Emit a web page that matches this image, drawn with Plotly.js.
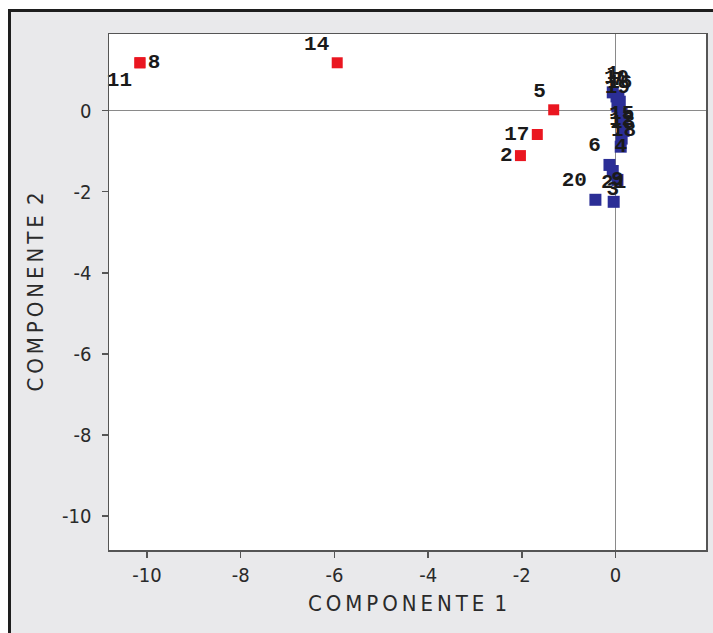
<!DOCTYPE html>
<html>
<head>
<meta charset="utf-8">
<script src="https://cdn.plot.ly/plotly-3.0.1.min.js"></script>
<style>
html,body{margin:0;padding:0;background:#ffffff;width:713px;height:633px;overflow:hidden;}
#frame{position:absolute;left:8px;top:9px;width:705px;height:624px;border-left:3px solid #1e1e1e;border-top:3px solid #1e1e1e;background:#e9e9eb;}
#chart{position:absolute;left:0;top:0;width:702px;height:621px;}
</style>
</head>
<body>
<div id="frame"><div id="chart"></div></div>
<script>
// Group 1 (red)
var redLabels = ['8', '11', '14', '5', '17', '2'];
var redX = [-10.15, -10.15, -5.94, -1.32, -1.67, -2.03];
var redY = [1.18, 1.18, 1.18, 0.02, -0.59, -1.11];

// Group 2 (blue)
var blueLabels = ['1', '10', '16', '19', '7', '15', '13', '18', '12', '4', '6', '3', '9', '20', '21'];
var blueX = [-0.06, 0.02, 0.09, 0.04, 0.06, 0.13, 0.15, 0.17, 0.13, 0.11, -0.13, -0.06, 0.04, -0.43, -0.04];
var blueY = [0.45, 0.35, 0.22, 0.10, 0.30, -0.07, -0.30, -0.50, -0.69, -0.89, -1.34, -1.49, -1.71, -2.20, -2.25];

var xTicks = [-10, -8, -6, -4, -2, 0];
var yTicks = [0, -2, -4, -6, -8, -10];

// label placement (style)
var redPos = ['middle right', 'bottom left', 'top left', 'top left', 'middle left', 'middle left'];
var bluePos = ['top center', 'top center', 'top center', 'top center', 'top center', 'middle center',
               'middle center', 'middle center', 'top center', 'middle center', 'top left', 'bottom center',
               'middle center', 'top left', 'top center'];

var labelFont = {family: 'Liberation Mono, DejaVu Sans Mono, monospace', size: 21, color: '#1a1a1a', weight: 'bold'};

var traces = [
  {
    x: redX, y: redY, text: redLabels, type: 'scatter', mode: 'markers+text',
    textposition: redPos, textfont: labelFont,
    marker: {symbol: 'square', size: 11, color: '#ea1620'},
    hoverinfo: 'text', cliponaxis: false
  },
  {
    x: blueX, y: blueY, text: blueLabels, type: 'scatter', mode: 'markers+text',
    textposition: bluePos, textfont: labelFont,
    marker: {symbol: 'square', size: 12, color: '#2b2e96'},
    hoverinfo: 'text', cliponaxis: false
  }
];

var tickFont = {family: 'DejaVu Sans Condensed, sans-serif', size: 20, color: '#2a2a2a'};
var titleFont = {family: 'DejaVu Sans Condensed, sans-serif', size: 22, color: '#2a2a2a'};

var layout = {
  width: 702, height: 621,
  paper_bgcolor: '#e9e9eb', plot_bgcolor: '#ffffff',
  margin: {l: 98, r: 7, t: 22, b: 83},
  showlegend: false,
  xaxis: {
    range: [-10.81, 1.93], tickvals: xTicks, ticktext: xTicks.map(String),
    showgrid: false, zeroline: true, zerolinecolor: '#8a8a8a', zerolinewidth: 1.5,
    showline: true, linecolor: '#555555', linewidth: 1.5, mirror: true,
    ticks: 'outside', ticklen: 6, tickcolor: '#555555', tickwidth: 1.5,
    tickfont: tickFont,
    title: {text: 'C\u2009O\u2009M\u2009P\u2009O\u2009N\u2009E\u2009N\u2009T\u2009E\u2009 1', font: titleFont, standoff: 10}
  },
  yaxis: {
    range: [-10.84, 1.89], tickvals: yTicks, ticktext: yTicks.map(String),
    showgrid: false, zeroline: true, zerolinecolor: '#8a8a8a', zerolinewidth: 1.5,
    showline: true, linecolor: '#555555', linewidth: 1.5, mirror: true,
    ticks: 'outside', ticklen: 6, tickcolor: '#555555', tickwidth: 1.5,
    tickfont: tickFont, ticklabelstandoff: 6,
    title: {text: 'C\u2009O\u2009M\u2009P\u2009O\u2009N\u2009E\u2009N\u2009T\u2009E\u2009 2', font: titleFont, standoff: 12}
  }
};

Plotly.newPlot('chart', traces, layout, {displayModeBar: false, staticPlot: true});
</script>
</body>
</html>
